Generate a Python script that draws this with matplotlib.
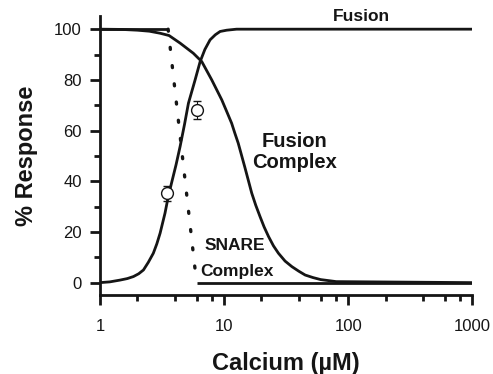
import numpy as np
import matplotlib
matplotlib.use("Agg")
import matplotlib.pyplot as plt
from matplotlib.ticker import FixedLocator, NullFormatter

plt.rcParams['font.family'] = ['Liberation Sans', 'DejaVu Sans']

# curves (calcium in uM, % response)
fusion_ca = [1, 1.2, 1.45, 1.66, 1.86, 2.05, 2.24, 2.45, 2.69, 2.87, 3.05, 3.34, 3.55, 3.78, 4.1, 4.42, 4.8,
             5.16, 5.84, 6.41, 7.0, 7.71, 8.5, 9.29, 10.5, 12.6, 20, 1000]
fusion_resp = [0, 0.3, 1, 1.6, 2.4, 3.5, 5, 8, 11.6, 15.3, 19.5, 27.4, 34, 39.5, 46.5, 53.7, 62.5,
               70.8, 80, 87.2, 92, 95.8, 97.8, 99.1, 99.6, 100, 100, 100]

complex_ca = [1, 1.5, 2, 2.5, 3.05, 3.6, 4.42, 5.65, 6.61, 7.95, 9.58, 10.5, 11.5, 12.2, 13.0, 14.7, 16.7,
              18, 19.5, 21, 22.8, 25, 27.4, 31, 35.2, 40, 45, 52, 60, 80, 1000]
complex_resp = [100, 99.9, 99.6, 99.2, 98.4, 97.5, 94.5, 90.5, 87.2, 80, 72.1, 67.5, 62.9, 59, 55, 45.5, 35.3,
                30.5, 26, 22, 18.2, 14.5, 11.6, 8.5, 6.3, 4.5, 3, 2, 1.2, 0.4, 0]

snare_ca = [1, 3.54, 6.0, 1000]
snare_resp = [100, 100, 0, 0]

# measured points with error bars
pts_ca = [3.45, 6.1]
pts_resp = [35.3, 68]
pts_err = [2.9, 3.6]

ink = '#151515'

fig = plt.figure(figsize=(4.93, 3.74), dpi=100)
ax = fig.add_axes([100 / 493, 1 - 295.3 / 374, 372.3 / 493, 279.3 / 374])

ax.plot(fusion_ca, fusion_resp, color=ink, lw=2, solid_capstyle='butt', solid_joinstyle='round')
ax.plot(complex_ca, complex_resp, color=ink, lw=2, solid_capstyle='butt', solid_joinstyle='round')
# SNARE complex: flat parts solid, transition dotted
ax.plot(snare_ca[:2], snare_resp[:2], color=ink, lw=2, solid_capstyle='butt')
ax.plot(snare_ca[2:], snare_resp[2:], color=ink, lw=2, solid_capstyle='butt')
ax.plot(snare_ca[1:3], snare_resp[1:3], color=ink, lw=2.4,
        linestyle=(0, (0.6, 4.9)), dash_capstyle='round')

ax.errorbar(pts_ca, pts_resp, yerr=pts_err, fmt='o', ms=8.5, mfc='white',
            mec=ink, mew=1, ecolor=ink, elinewidth=0.8, capsize=3, capthick=0.8, zorder=5)

ax.set_xscale('log')
ax.set_xlim(1, 1000)
ax.set_ylim(-5, 105.2)

ax.xaxis.set_major_locator(FixedLocator([1, 10, 100, 1000]))
ax.xaxis.set_minor_locator(FixedLocator([2, 4, 6, 8, 20, 40, 60, 80, 200, 400, 600, 800]))
ax.xaxis.set_minor_formatter(NullFormatter())
ax.set_xticklabels(['1', '10', '100', '1000'])
ax.set_yticks([0, 20, 40, 60, 80, 100])
ax.yaxis.set_minor_locator(FixedLocator([10, 30, 50, 70, 90]))

for s in ['top', 'right']:
    ax.spines[s].set_visible(False)
for s in ['left', 'bottom']:
    ax.spines[s].set_linewidth(2)
    ax.spines[s].set_color(ink)

ax.tick_params(which='major', length=7, width=2, labelsize=12, colors=ink, pad=6)
ax.tick_params(which='minor', length=4, width=2, colors=ink)
ax.tick_params(axis='x', which='major', pad=10)

ax.set_xlabel('Calcium (µM)', fontsize=17, fontweight='bold', color=ink, labelpad=13)
ax.set_ylabel('% Response', fontsize=17, fontweight='bold', color=ink, labelpad=12)

# curve labels
ax.text(129, 105, 'Fusion', fontsize=12.5, fontweight='bold', ha='center', va='center', color=ink)
ax.text(36.7, 53.7, 'Fusion', fontsize=14.5, fontweight='bold', ha='center', va='baseline', color=ink)
ax.text(36.7, 45.2, 'Complex', fontsize=14.5, fontweight='bold', ha='center', va='baseline', color=ink)
ax.text(12.3, 12.8, 'SNARE', fontsize=12.5, fontweight='bold', ha='center', va='baseline', color=ink)
ax.text(12.7, 2.6, 'Complex', fontsize=12.5, fontweight='bold', ha='center', va='baseline', color=ink)

fig.savefig('out.png', dpi=100)
